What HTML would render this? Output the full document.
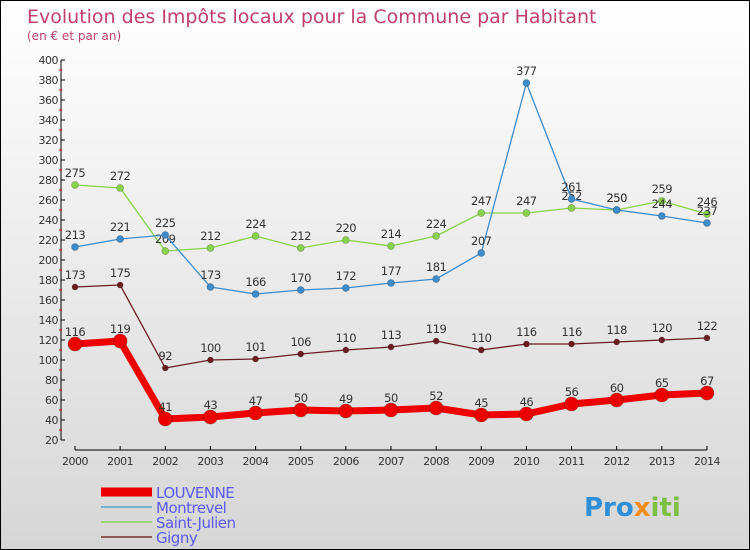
<!DOCTYPE html>
<html><head><meta charset="utf-8"><style>
body{margin:0;}
#c{position:relative;width:748px;height:548px;border:1px solid #000;background:linear-gradient(#ffffff,#d6d6d6);font-family:"DejaVu Sans","Liberation Sans",sans-serif;overflow:hidden}
</style></head><body>
<div id="c">
<svg id="s" width="748" height="548"></svg>
</div>
<script>
const years=[2000,2001,2002,2003,2004,2005,2006,2007,2008,2009,2010,2011,2012,2013,2014];
const louvenne=[116,119,41,43,47,50,49,50,52,45,46,56,60,65,67];
const montrevel=[213,221,225,173,166,170,172,177,181,207,377,261,250,244,237];
const saintJulien=[275,272,209,212,224,212,220,214,224,247,247,252,250,259,246];
const gigny=[173,175,92,100,101,106,110,113,119,110,116,116,118,120,122];
const yTicks=[20,40,60,80,100,120,140,160,180,200,220,240,260,280,300,320,360,340,380,400];
const NS="http://www.w3.org/2000/svg";
const s=document.getElementById('s');
function X(i){return 74+i*45.14;}
function Y(v){return 459-v;}
function el(t,a,p){const e=document.createElementNS(NS,t);for(const k in a)e.setAttribute(k,a[k]);(p||s).appendChild(e);return e;}
function txt(x,y,str,a){const t=el('text',Object.assign({x:x,y:y},a));t.textContent=str;return t;}
let t=txt(26,22,"Evolution des Impôts locaux pour la Commune par Habitant",{fill:"#c0406a","font-size":"19"});

t=txt(26,39,"(en € et par an)",{fill:"#c0406a","font-size":"12"});

// axes
let a=el('line',{x1:60,y1:Y(400),x2:60,y2:Y(20),stroke:"#000"});

a=el('line',{x1:74,y1:449,x2:X(14),y2:449,stroke:"#000"});

yTicks.forEach(v=>{
 el('line',{x1:60,y1:Y(v),x2:64,y2:Y(v),stroke:"#000"});
 if(v<400)el('line',{x1:58,y1:Y(v+10),x2:61,y2:Y(v+10),stroke:"#e00"});
 const l=txt(57,Y(v)+4,String(v),{fill:"#333","font-size":"11","text-anchor":"end","letter-spacing":"-0.5"});
 
});
years.forEach((y,i)=>{
 el('line',{x1:X(i),y1:445,x2:X(i),y2:449,stroke:"#000"});
 const l=txt(X(i),464,String(y),{fill:"#333","font-size":"11","text-anchor":"middle","letter-spacing":"-0.5"});
 
});
function series(data,color,w,r,name){
 const g=el('g',{});
 
 el('polyline',{points:data.map((v,i)=>X(i)+","+Y(v)).join(" "),fill:"none",stroke:color,"stroke-width":w,"stroke-linejoin":"round"},g);
 data.forEach((v,i)=>{
  const c=el('circle',{cx:X(i),cy:Y(v),r:r,fill:color,stroke:"#0004","stroke-width":0.7},g);
  
  const l=txt(X(i),Y(v)-8,String(v),{fill:"#333","font-size":"11.5","text-anchor":"middle","letter-spacing":"-0.5"},g);
  
 });
}
series(saintJulien,"#88d34c",1.3,3.5,"saint-julien");
series(montrevel,"#3d8ccc",1.3,3.5,"montrevel");
series(gigny,"#6b1c22",1.3,3,"gigny");
series(louvenne,"#ee0000",7,7,"louvenne");
const leg=[["LOUVENNE","#ee0000",9,497],["Montrevel","#7aaecf",2,512],["Saint-Julien","#9ad37a",2,527],["Gigny","#8c5a5a",2,542]];
leg.forEach(d=>{
 const g=el('g',{});
 el('line',{x1:100,y1:d[3]-6,x2:151,y2:d[3]-6,stroke:d[1],"stroke-width":d[2]},g);
 txt(155,d[3],d[0],{fill:"#5a5aee","font-size":"15","letter-spacing":"-0.5"},g);
});
const lg=txt(583,515,"",{"font-size":"26","font-weight":"bold"});

[["Pro","#2f8fd8"],["x","#f08c1a"],["iti","#7bc043"]].forEach(p=>{const ts=el('tspan',{fill:p[1]},lg);ts.textContent=p[0];});
</script>
</body></html>
